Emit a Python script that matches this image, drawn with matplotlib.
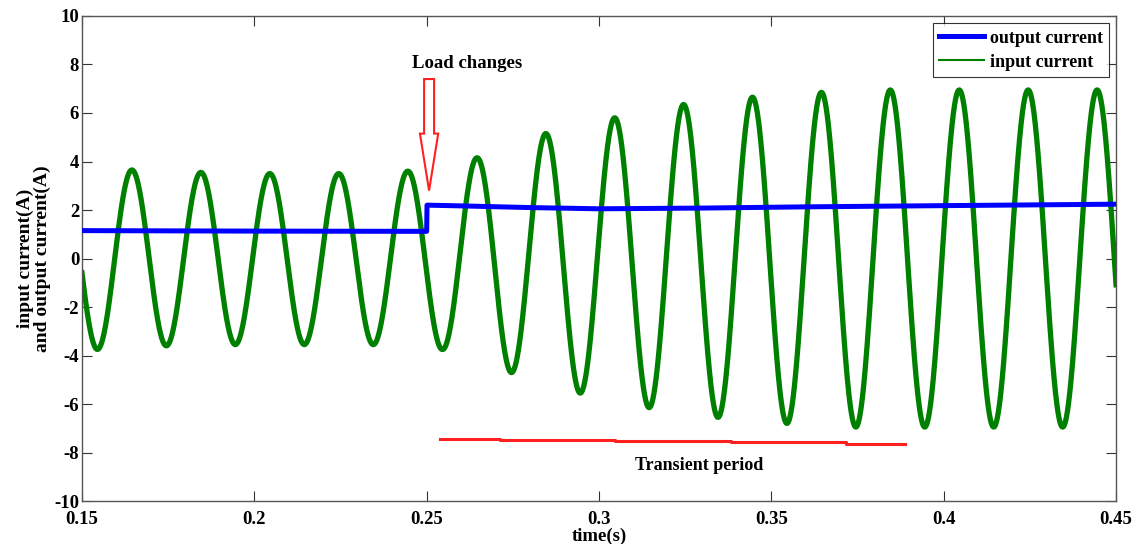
import numpy as np
import matplotlib
matplotlib.use("Agg")
import matplotlib.pyplot as plt
from matplotlib.patches import FancyArrow

# ---- data ----
# input current: extrema (time, value) of the 50 Hz waveform
ext_t0 = 0.1545
half_period = 0.01
ext_vals = [-3.75, 3.65, -3.6, 3.55, -3.55, 3.5, -3.55, 3.5, -3.55, 3.6,
            -3.75, 4.15, -4.7, 5.15, -5.55, 5.8, -6.15, 6.35, -6.55, 6.65,
            -6.8, 6.85, -6.95, 6.95, -6.95, 6.95, -6.95, 6.95, -6.95, 6.95]

# output current breakpoints
out_t = [0.15, 0.20, 0.25, 0.2501, 0.26, 0.28, 0.30, 0.33, 0.36, 0.40, 0.45]
out_v = [1.15, 1.13, 1.12, 2.2, 2.17, 2.1, 2.05, 2.08, 2.13, 2.18, 2.24]

# transient period marker (stepped red line)
tr_t = [0.2539, 0.2713, 0.2713, 0.3046, 0.3046, 0.3383, 0.3383, 0.3717, 0.3717, 0.3888]
tr_v = [-7.46, -7.46, -7.5, -7.5, -7.54, -7.54, -7.58, -7.58, -7.63, -7.63]

xticks = [0.15, 0.2, 0.25, 0.3, 0.35, 0.4, 0.45]
xticklabels = ["0.15", "0.2", "0.25", "0.3", "0.35", "0.4", "0.45"]
yticks = [-10, -8, -6, -4, -2, 0, 2, 4, 6, 8, 10]

# ---- build waveform from extrema ----
ext_t = ext_t0 + half_period * np.arange(len(ext_vals))
amp = np.abs(np.array(ext_vals))
t = np.linspace(0.15, 0.45, 6000)
A = np.interp(t, ext_t, amp)
i_in = -A * np.cos(np.pi * (t - ext_t0) / half_period)

serif = ["Liberation Serif", "DejaVu Serif"]
plt.rcParams['font.family'] = serif
plt.rcParams['font.weight'] = 'bold'
plt.rcParams['axes.unicode_minus'] = False

fig = plt.figure(figsize=(11.4, 5.44), dpi=100)
ax = fig.add_axes([0.0719, 0.079, 0.9071, 0.8916])

ax.plot(out_t, out_v, color='#0000ff', lw=3.6, label='output current', zorder=3)
ax.plot(t, i_in, color='#008000', lw=3.8, label='input current', zorder=2)

ax.plot(tr_t, tr_v, color='#ff2020', lw=2.2, zorder=4)

ax.text(0.329, -8.55, "Transient period", ha='center', va='center',
        fontsize=13, fontweight='bold')
ax.text(0.2617, 8.05, "Load changes", ha='center', va='center',
        fontsize=13.5, fontweight='bold')

arrow = FancyArrow(0.2507, 7.4, 0.0, -4.6, width=0.0029, head_width=0.0053,
                   head_length=2.35, length_includes_head=True,
                   facecolor='white', edgecolor='#ff2020', lw=1.5, zorder=5)
ax.add_patch(arrow)

ax.set_xlim(0.15, 0.45)
ax.set_ylim(-10, 10)
ax.set_xticks(xticks)
ax.set_xticklabels(xticklabels)
ax.set_yticks(yticks)
ax.tick_params(direction='in', length=7, width=0.8, top=True, right=True,
               labelsize=13.5, colors='#333333', labelcolor='black')
ax.tick_params(axis='y', pad=2)
ax.tick_params(axis='x', pad=7)
for lab in ax.get_xticklabels() + ax.get_yticklabels():
    lab.set_fontweight('bold')
for s in ax.spines.values():
    s.set_color('#555555')
    s.set_linewidth(1.0)

ax.set_xlabel("time(s)", fontsize=13.5, fontweight='bold', labelpad=0)
ax.set_ylabel("input current(A)\nand output current(A)", fontsize=14,
              fontweight='bold', labelpad=2, linespacing=1.0)

leg = ax.legend(loc='upper right', fontsize=13, frameon=True, fancybox=False,
                edgecolor='black', borderaxespad=0.4, handlelength=2.5,
                borderpad=0.35, labelspacing=0.4, handletextpad=0.3,
                prop={'weight': 'bold', 'size': 13, 'family': serif})
leg.get_frame().set_linewidth(0.8)
leg.get_lines()[1].set_linewidth(1.5)
leg.get_lines()[0].set_linewidth(3.6)

fig.savefig("out.png", dpi=100)
